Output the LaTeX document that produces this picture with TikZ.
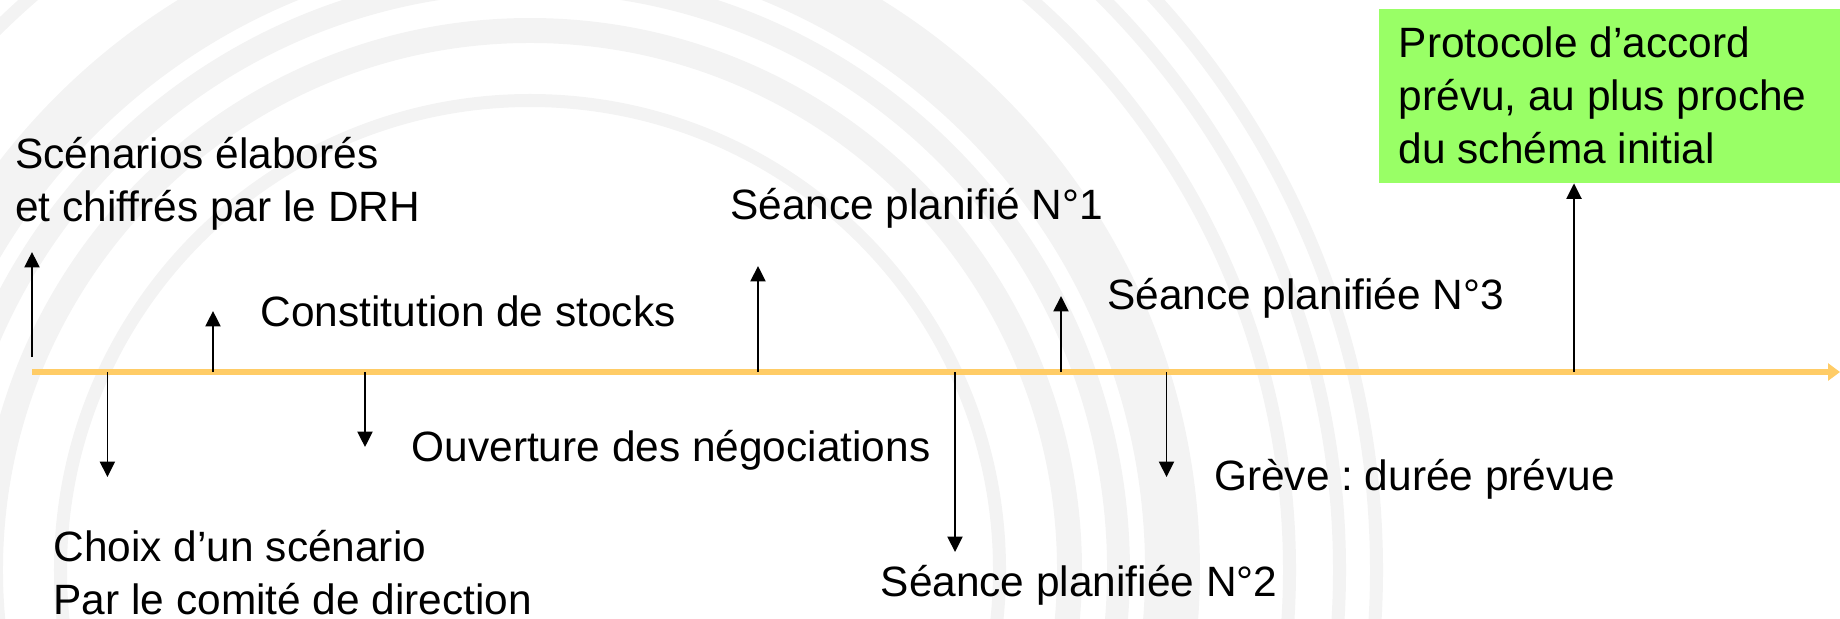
\documentclass[tikz,border=0pt]{standalone}
\usepackage{fontspec}
\setmainfont{Liberation Sans}
\usetikzlibrary{arrows.meta}
\frenchspacing
\definecolor{ribbon}{HTML}{FFCC66}
\definecolor{boxgreen}{HTML}{99FF66}
\definecolor{ripple}{HTML}{F3F3F3}
\tikzset{
  lbl/.style={inner sep=0pt, anchor=base west, align=left,
    font=\fontsize{12.06pt}{15pt}\selectfont},
  tick/.style={line width=0.5pt, -{Triangle[length=4.4pt,width=4.3pt]}},
  timeline/.style={draw=ribbon, line width=1.55pt,
    -{Triangle[length=3.4pt,width=4.8pt]}},
  band/.style={draw=ripple},
}
\begin{document}
\begin{tikzpicture}[x=0.01cm,y=-0.01cm]
\useasboundingbox (0,0) rectangle (1840,618);

% faint concentric ripples in the background
\begin{scope}
  \clip (0,0) rectangle (1840,618);
  \coordinate (rc) at (530,570);
  \draw[band, line width=3.7pt]  (rc) circle[radius=469.5];
  \draw[band, line width=7.1pt]  (rc) circle[radius=539.5];
  \draw[band, line width=6.5pt]  (rc) circle[radius=588.5];
  \draw[band, line width=15.6pt] (rc) circle[radius=642.5];
  \draw[band, line width=3.7pt]  (rc) circle[radius=759.5];
  \draw[band, line width=3.7pt]  (rc) circle[radius=809.5];
  \draw[band, line width=3.7pt]  (rc) circle[radius=846.5];
\end{scope}

% final agreement box (multi-line labels are placed by their last baseline)
\node[fill=boxgreen, inner sep=0pt, anchor=north west,
      minimum width=462*0.01cm, minimum height=174*0.01cm] (box) at (1378,8) {};
\node[lbl] (proto) at (1398,163) {Protocole d’accord\\prévu, au plus proche\\du schéma initial};

% time axis
\coordinate (t0) at (32,372);
\coordinate (tend) at (1840,372);
\draw[timeline] (t0) -- (tend);

% labels
\node[lbl] (scen)  at (14.7,221.5) {Scénarios élaborés\\et chiffrés par le DRH};
\node[lbl] (choix) at (53,614.5)   {Choix d’un scénario\\Par le comité de direction};
\node[lbl] (stock) at (260,326)    {Constitution de stocks};
\node[lbl] (ouv)   at (411,461)    {Ouverture des négociations};
\node[lbl] (s1)    at (729.5,219.5) {Séance planifié N°1};
\node[lbl] (s2)    at (880,596)    {Séance planifiée N°2};
\node[lbl] (s3)    at (1106.6,309.4) {Séance planifiée N°3};
\node[lbl] (greve) at (1213.4,490.7) {Grève : durée prévue};

% event markers on the axis
\coordinate (e1) at (32,357);    \coordinate (h1) at (32,252);
\coordinate (e2) at (107.4,372); \coordinate (h2) at (107.4,477);
\coordinate (e3) at (213,372);   \coordinate (h3) at (213,311);
\coordinate (e4) at (365,372);   \coordinate (h4) at (365,447);
\coordinate (e5) at (758,372);   \coordinate (h5) at (758,266);
\coordinate (e6) at (955,372);   \coordinate (h6) at (955,552);
\coordinate (e7) at (1061,372);  \coordinate (h7) at (1061,296);
\coordinate (e8) at (1166.5,372);\coordinate (h8) at (1166.5,477);
\coordinate (e9) at (1574,372);

\draw[tick] (e1) -- (h1);
\draw[tick] (e2) -- (h2);
\draw[tick] (e3) -- (h3);
\draw[tick] (e4) -- (h4);
\draw[tick] (e5) -- (h5);
\draw[tick] (e6) -- (h6);
\draw[tick] (e7) -- (h7);
\draw[tick] (e8) -- (h8);
\draw[tick] (e9) -- (e9 |- box.south);
\end{tikzpicture}
\end{document}
